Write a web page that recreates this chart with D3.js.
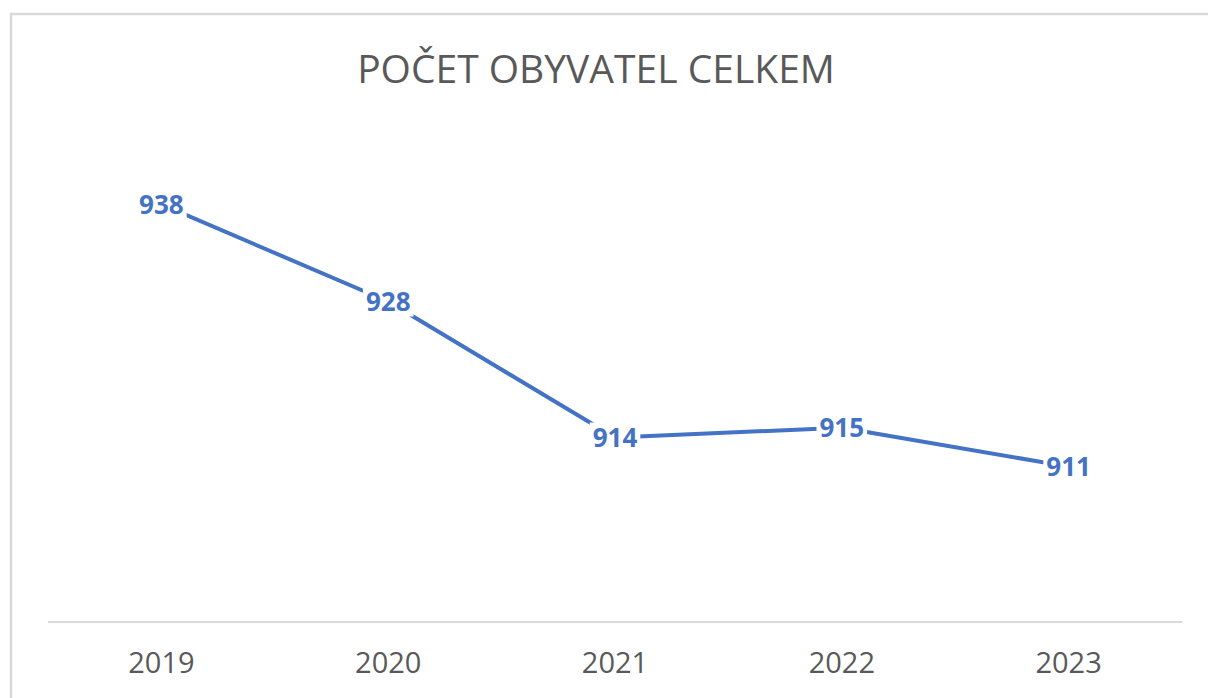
<!DOCTYPE html>
<html>
<head>
<meta charset="utf-8">
<script src="https://cdn.jsdelivr.net/npm/d3@7"></script>
<style>
  html, body { margin: 0; padding: 0; background: #fff; }
  svg { display: block; }
</style>
</head>
<body>
<div id="chart"></div>
<script>
// data
const years = ['2019', '2020', '2021', '2022', '2023'];
const population = [938, 928, 914, 915, 911];
const title = 'POČET OBYVATEL CELKEM';

const width = 1208, height = 698;
const blue = '#4472C4', textGray = '#595959', lineGray = '#D9D9D9';

const svg = d3.select('#chart').append('svg')
    .attr('width', width)
    .attr('height', height);

// chart frame (runs off the right and bottom edge like the screenshot)
svg.append('rect')
    .attr('x', 11).attr('y', 14)
    .attr('width', 1400).attr('height', 900)
    .attr('fill', '#fff')
    .attr('stroke', lineGray)
    .attr('stroke-width', 2.5);

// title
svg.append('text')
    .attr('x', 596).attr('y', 83)
    .attr('text-anchor', 'middle')
    .attr('font-family', 'Open Sans, sans-serif')
    .attr('font-size', 39)
    .attr('fill', textGray)
    .text(title);

// scales
const x = d3.scaleBand()
    .domain(years)
    .range([48, 1182]);

const y = d3.scaleLinear()
    .domain([895, 940])
    .range([622, 185]);

// category axis
const xAxis = svg.append('g')
    .attr('transform', 'translate(0,622)')
    .call(d3.axisBottom(x).tickSize(0).tickPadding(0));

xAxis.select('.domain')
    .attr('stroke', lineGray)
    .attr('stroke-width', 2)
    .attr('d', 'M48,0H1182');

xAxis.selectAll('text')
    .attr('y', 51)
    .attr('dy', null)
    .attr('font-family', 'Open Sans, sans-serif')
    .attr('font-size', 29)
    .attr('fill', textGray);

// line
const line = d3.line()
    .x((d, i) => x(years[i]) + x.bandwidth() / 2)
    .y(d => y(d));

svg.append('path')
    .datum(population)
    .attr('d', line)
    .attr('fill', 'none')
    .attr('stroke', blue)
    .attr('stroke-width', 4)
    .attr('stroke-linejoin', 'round');

// data labels, centred on the points with white backing
const labels = svg.append('g')
    .selectAll('g')
    .data(population)
    .join('g')
    .attr('transform', (d, i) => `translate(${x(years[i]) + x.bandwidth() / 2},${y(d)})`);

labels.append('text')
    .attr('text-anchor', 'middle')
    .attr('y', 9.3)
    .attr('font-family', 'Open Sans, sans-serif')
    .attr('font-weight', 'bold')
    .attr('font-size', 26)
    .attr('fill', blue)
    .text(d => d);

labels.insert('rect', 'text')
    .each(function() {
        const t = d3.select(this.parentNode).select('text').node();
        const w = t.getComputedTextLength();
        d3.select(this)
            .attr('x', -w / 2 - 3)
            .attr('y', -15)
            .attr('width', w + 6)
            .attr('height', 30)
            .attr('fill', '#fff');
    });
</script>
</body>
</html>
